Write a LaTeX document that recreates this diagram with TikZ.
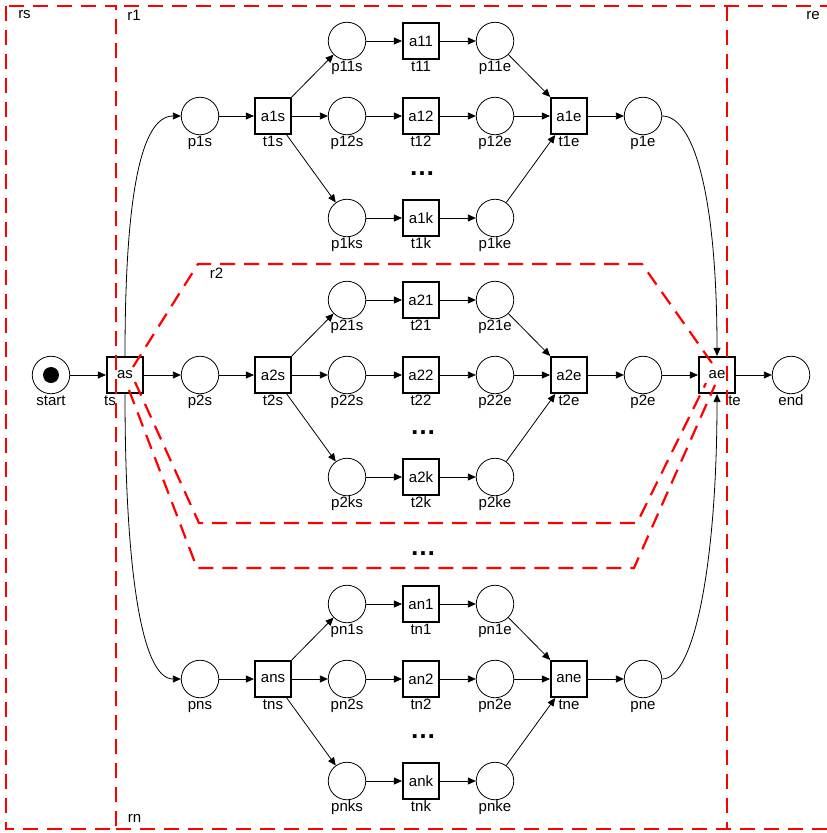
\documentclass[tikz,border=0pt]{standalone}
\usepackage{fontspec}
\setmainfont{Liberation Sans}
\usetikzlibrary{arrows.meta}
\begin{document}
\begin{tikzpicture}[x=1pt,y=-1pt,
  every node/.style={font=\fontsize{15}{18}\selectfont},
  place/.style={circle,draw,line width=0.8pt,minimum size=37.5pt,inner sep=0pt,label distance=2pt},
  trans/.style={rectangle,draw,line width=1.7pt,minimum size=36.4pt,inner sep=0pt,label distance=2.5pt},
  every label/.style={inner sep=0pt,text height=11pt,text depth=3pt},
  arc/.style={line width=0.8pt,-{Triangle[length=8pt,width=7pt]}},
  region/.style={draw=red,line width=2.2pt,dash pattern=on 15pt off 9pt},
  dots/.style={font=\fontsize{26}{26}\selectfont\bfseries,inner sep=0pt},
  rlabel/.style={inner sep=0pt}
]
\useasboundingbox (0,0) rectangle (827,833);

% start / end
\node[place,label=below:start] (start) at (51,375) {};
\node[circle,fill,minimum size=16pt,inner sep=0pt] (tok) at (51,375) {};
\node[trans,label={[xshift=-15pt]below:ts}] (ts) at (125,375) {as};
\node[trans,label={[xshift=17.5pt]below:te}] (te) at (717,375) {ae};
\node[place,label=below:end] (end) at (791,375) {};
\draw[arc] (start) -- (ts);
\draw[arc] (te) -- (end);

% branches
\foreach \br/\y in {1/116,2/375,n/679}{
  \pgfmathsetmacro\yu{\y-75}
  \pgfmathsetmacro\yl{\y+102}
  \node[place,label=below:p\br s] (p\br s) at (200,\y) {};
  \node[trans,label=below:t\br s] (t\br s) at (273,\y) {a\br s};
  \node[trans,label=below:t\br e] (t\br e) at (569,\y) {a\br e};
  \node[place,label=below:p\br e] (p\br e) at (643,\y) {};
  \draw[arc] (p\br s) -- (t\br s);
  \draw[arc] (t\br e) -- (p\br e);
  \foreach \j/\yy in {1/\yu,2/\y,k/\yl}{
    \node[place,label=below:p\br\j s] (p\br\j s) at (347,\yy) {};
    \node[trans,label=below:t\br\j] (t\br\j) at (421,\yy) {a\br\j};
    \node[place,label=below:p\br\j e] (p\br\j e) at (495,\yy) {};
    \draw[arc] (t\br s) -- (p\br\j s);
    \draw[arc] (p\br\j s) -- (t\br\j);
    \draw[arc] (t\br\j) -- (p\br\j e);
    \draw[arc] (p\br\j e) -- (t\br e);
  }
}

% connections from ts and to te
\draw[arc] (ts.north) .. controls (125,200) and (140,116) .. (p1s.west);
\draw[arc] (ts) -- (p2s);
\draw[arc] (ts.south) .. controls (125,560) and (140,679) .. (pns.west);
\draw[arc] (p1e.east) .. controls (695,116) and (717,200) .. (te.north);
\draw[arc] (p2e) -- (te);
\draw[arc] (pne.east) .. controls (695,679) and (717,560) .. (te.south);

% dots
\node[dots] (d1) at (422,174) {…};
\node[dots] (d2) at (423,433) {…};
\node[dots] (dm) at (423,554) {…};
\node[dots] (dn) at (423,737) {…};

% regions
\draw[region] (6,6) rectangle (116,829);
\draw[region] (124,6) -- (827,6);
\draw[region] (727,6) -- (727,829);
\draw[region] (116,829) -- (827,829);
\draw[region] (133,367) -- (198,264) -- (642,264) -- (714,366);
\draw[region] (135,382) -- (199,523) -- (637,523) -- (706,383);
\draw[region] (129,390) -- (197,568) -- (634,568) -- (715,385);

\node[rlabel] (lrs) at (24.5,14.5) {rs};
\node[rlabel] (lr1) at (134,15) {r1};
\node[rlabel] (lre) at (813,15.5) {re};
\node[rlabel] (lr2) at (216.5,273.5) {r2};
\node[rlabel] (lrn) at (134.5,818.5) {rn};
\end{tikzpicture}
\end{document}
